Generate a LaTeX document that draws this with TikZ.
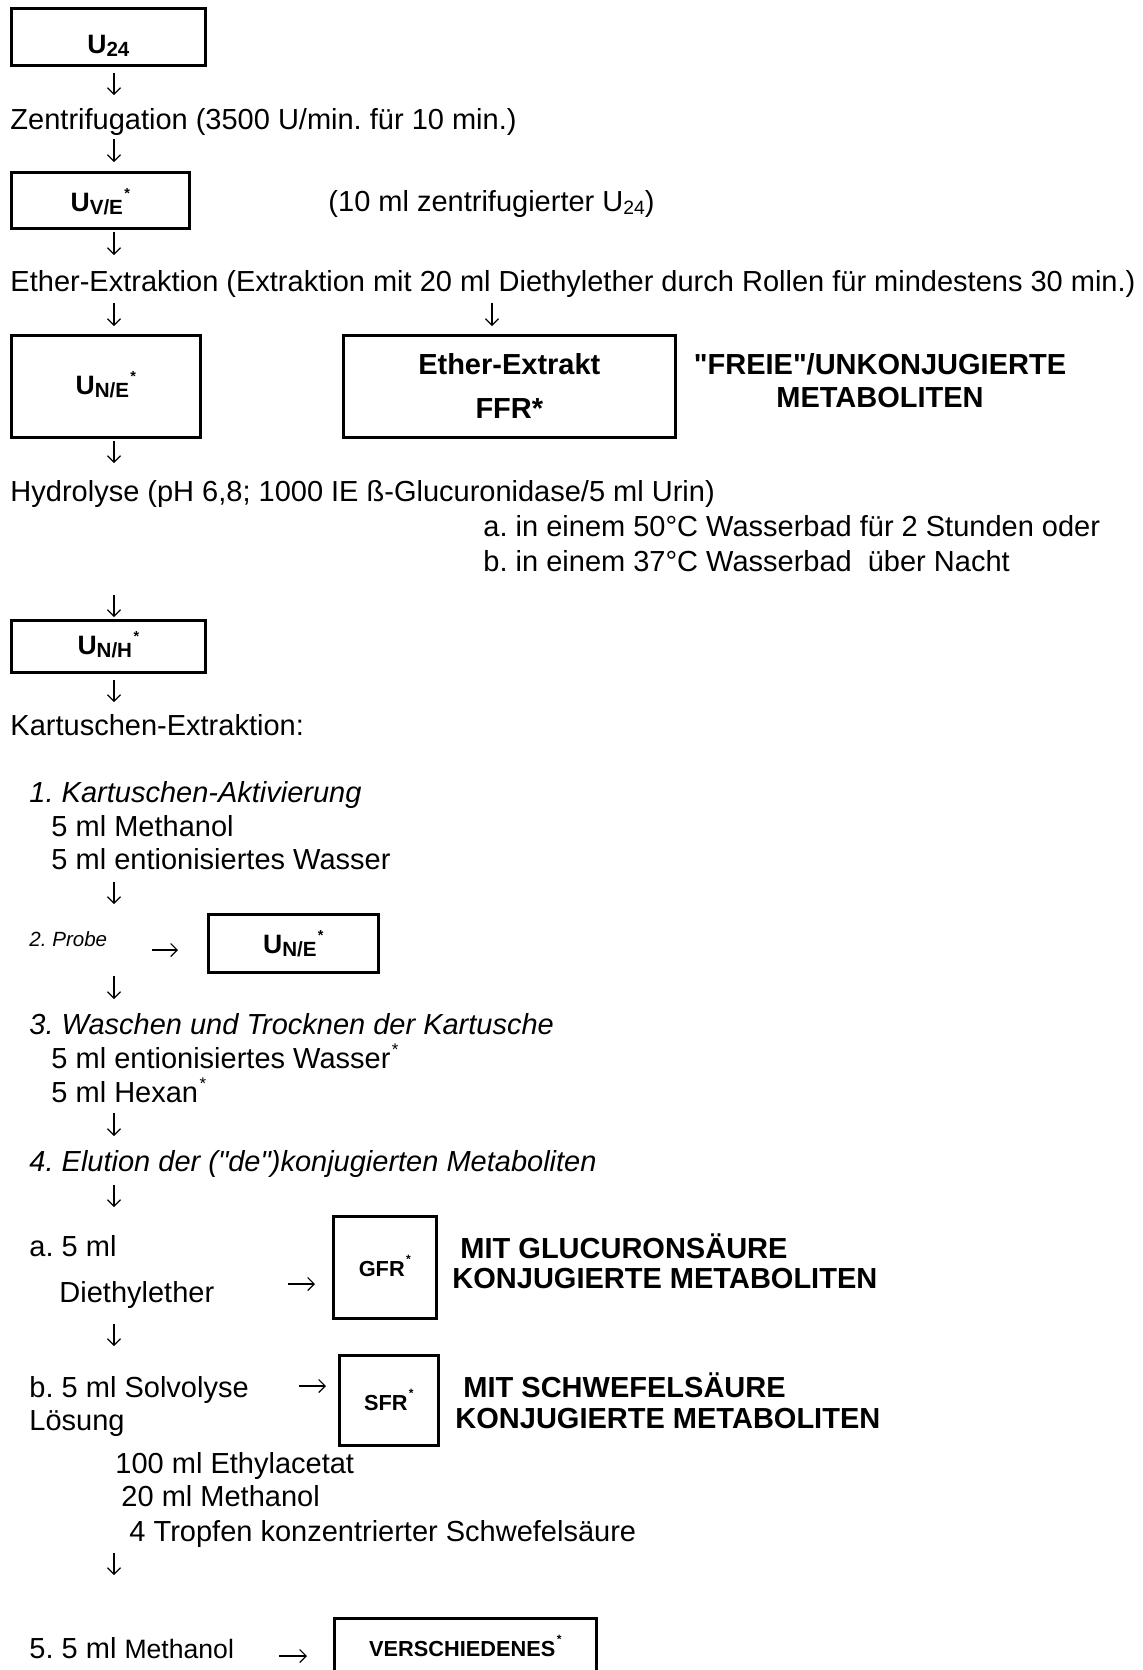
\documentclass[tikz,border=0pt]{standalone}
\usepackage{fontspec}
\setmainfont{Liberation Sans}[Ligatures=TeXOff]
\usetikzlibrary{arrows.meta}
\frenchspacing
\newcommand\subt[2][8.5]{\raisebox{-1.3pt}{\fontsize{#1}{#1}\selectfont #2}}
\newcommand\supt[2][6]{\kern0.6pt\raisebox{5.2pt}{\fontsize{#1}{#1}\selectfont #2}}
\newcommand\qmark{\char34\relax}
\newcommand\flowarrow[3]{\coordinate (#1s) at (#2); \coordinate (#1e) at (#3); \draw[arr] (#1s) -- (#1e);}
\begin{document}
\begin{tikzpicture}[
  x=0.4138pt, y=-0.4138pt,
  arr/.style={-{Straight Barb[length=2.7pt,width=5.4pt,line width=0.45pt]}, line width=0.45pt},
  box/.style={draw, line width=1.1pt, inner sep=0pt, anchor=north west, font=\bfseries\fontsize{11}{13}\selectfont},
  txt/.style={anchor=base west, inner sep=0pt, font=\fontsize{12}{14}\selectfont},
  itx/.style={anchor=base west, inner sep=0pt, font=\itshape\fontsize{12}{14}\selectfont},
  bld/.style={anchor=base, inner sep=0pt, font=\bfseries\fontsize{12}{14}\selectfont},
  bldw/.style={anchor=base west, inner sep=0pt, font=\bfseries\fontsize{12}{14}\selectfont},
]
\clip (0,0) rectangle (1143,1670);
\fill[white] (0,0) rectangle (1143,1670);

% ---------- boxes ----------
\node[box, minimum width=80.28pt, text height=18.62pt, text depth=4.97pt] (u24) at (10,7) {U\subt{24}};
\node[box, minimum width=73.66pt, text height=16.14pt, text depth=7.03pt] (uve) at (10,171) {U\subt{V/E}\supt{*}};
\node[box, minimum width=78.21pt, text height=24.41pt, text depth=17.79pt] (une) at (10,334) {U\subt{N/E}\supt{*}};
\node[box, minimum width=137.38pt, text height=16.14pt, text depth=26.07pt, font=\bfseries\fontsize{12}{14}\selectfont] (ether) at (342,334) {Ether-Extrakt};
\node[bld] (ffr) at (ether.center |- 0,418) {FFR*};
\node[box, minimum width=80.28pt, text height=14.07pt, text depth=7.45pt] (unh) at (10,619) {U\subt{N/H}\supt{*}};
\node[box, minimum width=70.35pt, text height=16.14pt, text depth=7.86pt] (une2) at (207,913) {U\subt{N/E}\supt{*}};
\node[box, minimum width=42.62pt, text height=24.83pt, text depth=17.38pt, font=\bfseries\fontsize{9}{11}\selectfont] (gfr) at (332,1215) {GFR\supt[5]{*}};
\node[box, minimum width=40.97pt, text height=22.76pt, text depth=14.48pt, font=\bfseries\fontsize{9}{11}\selectfont] (sfr) at (338,1354) {SFR\supt[5]{*}};
\node[box, minimum width=108.42pt, text height=15.72pt, text depth=18.62pt, font=\bfseries\fontsize{9}{11}\selectfont] (vers) at (333,1617) {VERSCHIEDENES\supt[5]{*}};

% ---------- bold labels ----------
\node[bld] (frei) at (880,374) {\qmark FREIE\qmark/UNKONJUGIERTE};
\node[bld] (freim) at (880,407) {METABOLITEN};
\node[bldw] (glu1) at (460,1258) {MIT GLUCURONSÄURE};
\node[bldw] (glu2) at (452,1288) {KONJUGIERTE METABOLITEN};
\node[bldw] (sch1) at (463,1397) {MIT SCHWEFELSÄURE};
\node[bldw] (sch2) at (455,1428) {KONJUGIERTE METABOLITEN};

% ---------- texts ----------
\node[txt] (zen) at (10,129) {Zentrifugation (3500 U/min. für 10 min.)};
\node[txt] (zml) at (328,211) {(10 ml zentrifugierter U\subt[8]{24})};
\node[txt] (eth) at (10,291) {Ether-Extraktion (Extraktion mit 20 ml Diethylether durch Rollen für mindestens 30 min.)};
\node[txt] (hyd) at (10,501) {Hydrolyse (pH 6,8; 1000 IE ß-Glucuronidase/5 ml Urin)};
\node[txt] (hya) at (483,536) {a. in einem 50°C Wasserbad für 2 Stunden oder};
\node[txt] (hyb) at (483,571) {b. in einem 37°C Wasserbad\ \ über Nacht};
\node[txt] (kart) at (10,735) {Kartuschen-Extraktion:};
\node[itx] (s1) at (29,802) {1. Kartuschen-Aktivierung};
\node[txt] (s1a) at (51,836) {5 ml Methanol};
\node[txt] (s1b) at (51,869) {5 ml entionisiertes Wasser};
\node[itx, font=\itshape\fontsize{8.5}{10}\selectfont] (s2) at (29,946) {2. Probe};
\node[itx] (s3) at (29,1034) {3. Waschen und Trocknen der Kartusche};
\node[txt] (s3a) at (51,1068) {5 ml entionisiertes Wasser\supt[7]{*}};
\node[txt] (s3b) at (51,1102) {5 ml Hexan\supt[7]{*}};
\node[itx] (s4) at (29,1171) {4. Elution der (\qmark de\qmark)konjugierten Metaboliten};
\node[txt] (s4a) at (29,1256) {a. 5 ml};
\node[txt] (s4a2) at (59,1302) {Diethylether};
\node[txt] (s4b) at (29,1397) {b. 5 ml Solvolyse};
\node[txt] (s4b2) at (29,1430) {Lösung};
\node[txt] (sol1) at (115,1473) {100 ml Ethylacetat};
\node[txt] (sol2) at (121,1506) {20 ml Methanol};
\node[txt] (sol3) at (129,1541) {4 Tropfen konzentrierter Schwefelsäure};
\node[txt] (s5) at (29,1658) {5. 5 ml {\fontsize{11}{13}\selectfont Methanol}};

% ---------- arrows ----------
\flowarrow{a1}{114,73}{114,95}
\flowarrow{a2}{114,139}{114,162}
\flowarrow{a3}{114,232}{114,255}
\flowarrow{a4}{114,303}{114,326}
\flowarrow{a5}{492,303}{492,326}
\flowarrow{a6}{114,441}{114,463}
\flowarrow{a7}{114,595}{114,617}
\flowarrow{a8}{114,680}{114,702}
\flowarrow{a9}{114,882}{114,904}
\flowarrow{a10}{114,976}{114,999}
\flowarrow{a11}{114,1113}{114,1136}
\flowarrow{a12}{114,1185}{114,1207}
\flowarrow{a13}{114,1324}{114,1346}
\flowarrow{a14}{114,1553}{114,1575}
\flowarrow{h1}{152,950}{178,950}
\flowarrow{h2}{288,1284}{315,1284}
\flowarrow{h3}{299,1386}{326,1386}
\flowarrow{h4}{279,1656}{307,1656}
\end{tikzpicture}
\end{document}
